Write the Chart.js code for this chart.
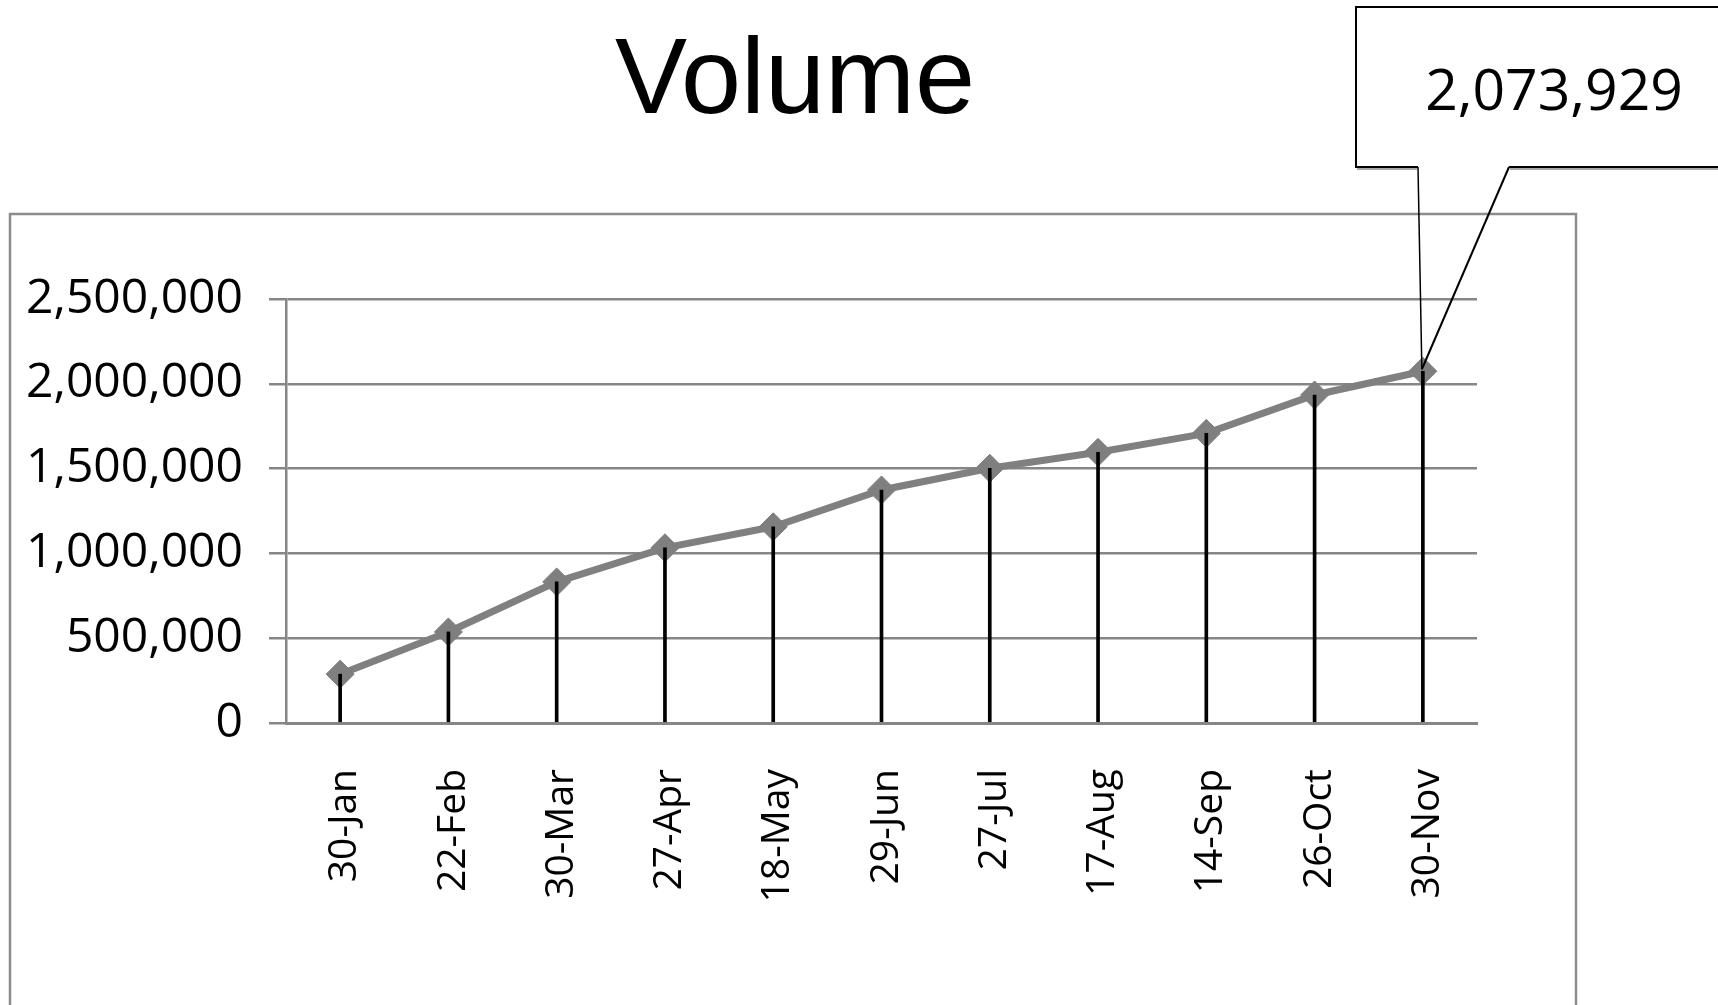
<!DOCTYPE html>
<html>
<head>
<meta charset="utf-8">
<script src="https://cdn.jsdelivr.net/npm/chart.js@4.4.1/dist/chart.umd.min.js"></script>
<style>
  html, body { margin: 0; padding: 0; background: #ffffff; }
  #wrap { width: 1718px; height: 1005px; position: relative; overflow: hidden; }
  canvas { display: block; }
</style>
</head>
<body>
<div id="wrap"><canvas id="c" width="1718" height="1005"></canvas></div>
<script>
const titleText = 'Volume';
const categories = ['30-Jan', '22-Feb', '30-Mar', '27-Apr', '18-May', '29-Jun', '27-Jul', '17-Aug', '14-Sep', '26-Oct', '30-Nov'];
const volumeValues = [288000, 537000, 832000, 1033000, 1157000, 1374000, 1502000, 1596000, 1708000, 1934000, 2073929];
const yTickMin = 0;
const yTickMax = 2500000;
const yTickStep = 500000;

const fmt = v => Number(v).toLocaleString('en-US');
const GRAY = '#868686';

const decorPlugin = {
  id: 'decor',
  beforeDraw(chart) {
    const ctx = chart.ctx;
    ctx.save();
    ctx.fillStyle = '#ffffff';
    ctx.fillRect(0, 0, chart.width, chart.height);
    ctx.strokeStyle = '#8c8c8c';
    ctx.lineWidth = 2.5;
    ctx.strokeRect(10, 214, 1566, 820);
    ctx.restore();
  },
  afterDraw(chart) {
    const ctx = chart.ctx;
    ctx.save();
    // title
    ctx.fillStyle = '#000000';
    ctx.font = '108px "Liberation Sans", Arial, sans-serif';
    ctx.textAlign = 'center';
    ctx.textBaseline = 'alphabetic';
    ctx.fillText(titleText, 795, 113);

    // callout for last value
    const meta = chart.getDatasetMeta(1);
    const last = meta.data[meta.data.length - 1];
    const tipX = last.x, tipY = last.y;
    const bx = 1356, by = 7, bw = 396, bh = 160;
    ctx.fillStyle = '#ffffff';
    ctx.fillRect(bx, by, bw, bh);
    // shadow segments
    ctx.strokeStyle = '#a8a8a8';
    ctx.lineWidth = 2;
    ctx.beginPath();
    ctx.moveTo(bx + 1, by + bh + 2); ctx.lineTo(1417, by + bh + 2);
    ctx.moveTo(1510, by + bh + 2); ctx.lineTo(1718, by + bh + 2);
    ctx.stroke();
    // box outline (open where pointer attaches)
    ctx.strokeStyle = '#000000';
    ctx.lineWidth = 2;
    ctx.beginPath();
    ctx.moveTo(1418, by + bh);
    ctx.lineTo(bx, by + bh);
    ctx.lineTo(bx, by);
    ctx.lineTo(bx + bw, by);
    ctx.lineTo(bx + bw, by + bh);
    ctx.lineTo(1509, by + bh);
    ctx.stroke();
    // pointer
    ctx.lineWidth = 1.5;
    ctx.beginPath();
    ctx.moveTo(1418, by + bh);
    ctx.lineTo(tipX - 1, tipY - 2);
    ctx.stroke();
    ctx.lineWidth = 2;
    ctx.beginPath();
    ctx.moveTo(1509, by + bh);
    ctx.lineTo(tipX - 1, tipY - 2);
    ctx.stroke();
    // text
    ctx.fillStyle = '#000000';
    ctx.font = '57px "Open Sans", "Noto Sans", sans-serif';
    ctx.textAlign = 'center';
    ctx.textBaseline = 'alphabetic';
    ctx.fillText(fmt(volumeValues[volumeValues.length - 1]), 1554, 110);
    ctx.restore();
  }
};

new Chart(document.getElementById('c'), {
  data: {
    labels: categories,
    datasets: [
      {
        type: 'bar',
        label: 'drop',
        data: volumeValues,
        backgroundColor: '#000000',
        borderWidth: 0,
        barThickness: 3,
        order: 0
      },
      {
        type: 'line',
        label: 'Volume',
        data: volumeValues,
        borderColor: '#808080',
        borderWidth: 7,
        backgroundColor: '#808080',
        pointStyle: 'rectRot',
        pointRadius: 14,
        pointBorderWidth: 1,
        pointBackgroundColor: '#7f7f7f',
        pointBorderColor: '#7f7f7f',
        tension: 0,
        fill: false,
        order: 1
      }
    ]
  },
  options: {
    responsive: false,
    animation: false,
    devicePixelRatio: 1,
    layout: { padding: { top: 299, right: 241, bottom: 0, left: 0 } },
    plugins: {
      legend: { display: false },
      tooltip: { enabled: false },
      title: { display: false }
    },
    scales: {
      x: {
        type: 'category',
        offset: true,
        grid: { display: false, drawTicks: false },
        border: { display: true, color: GRAY, width: 3 },
        ticks: {
          autoSkip: false,
          maxRotation: 90,
          minRotation: 90,
          padding: 46,
          labelOffset: 5,
          color: '#000000',
          font: { family: '"Open Sans", "Noto Sans", sans-serif', size: 39 }
        },
        afterFit(scale) { scale.height = 282; }
      },
      y: {
        min: yTickMin,
        max: yTickMax,
        grid: { color: GRAY, lineWidth: 2.5, drawTicks: true, tickLength: 17, tickColor: GRAY, tickWidth: 2.5 },
        border: { display: true, color: GRAY, width: 2.5 },
        ticks: {
          stepSize: yTickStep,
          padding: 26,
          color: '#000000',
          font: { family: '"Open Sans", "Noto Sans", sans-serif', size: 48 },
          callback: v => fmt(v)
        },
        afterFit(scale) { scale.width = 286; }
      }
    }
  },
  plugins: [decorPlugin]
});
</script>
</body>
</html>
